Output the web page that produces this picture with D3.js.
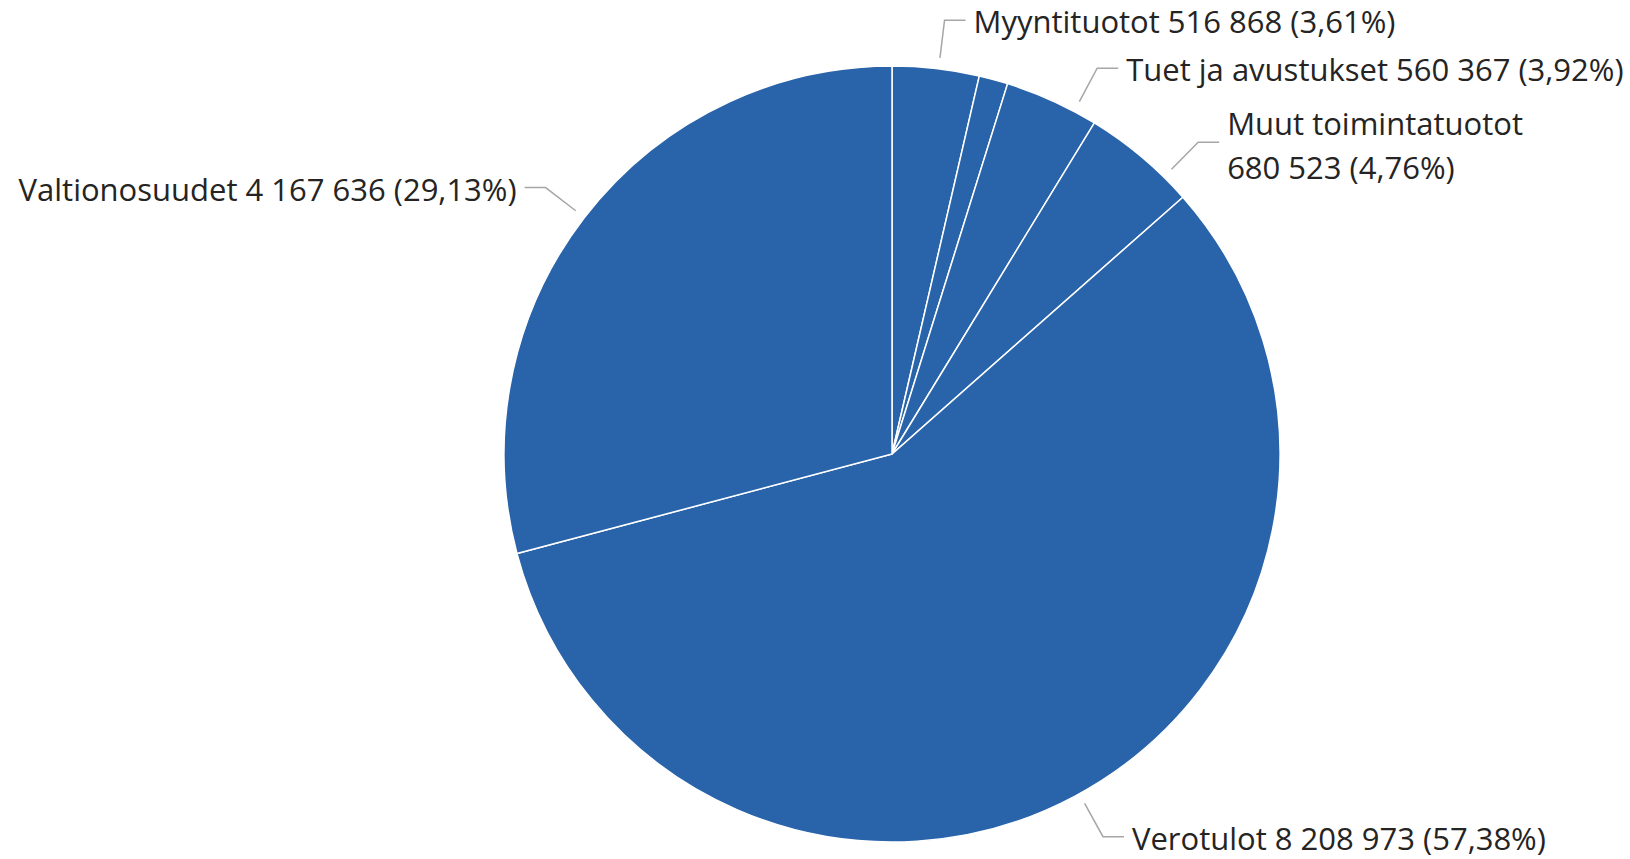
<!DOCTYPE html>
<html>
<head>
  <meta charset="utf-8">
  <title>Toimintatuotot pie</title>
  <script src="https://cdn.jsdelivr.net/npm/d3@7"></script>
  <style>
    body { margin: 0; background: #fff; }
  </style>
</head>
<body>
<script>
  // data (small slice has no visible label)
  var categories = ["Myyntituotot", "Maksutuotot", "Tuet ja avustukset", "Muut toimintatuotot", "Verotulot", "Valtionosuudet"];
  var values = [516868, 172133, 560367, 680523, 8208973, 4167636];
  var showLabel = [true, false, true, true, true, true];

  var width = 1630;
  var height = 859;
  var cx = 892, cy = 454, radius = 388;
  var fontSize = 31;
  var lineH = 48;
  var wrapGap = 43.5;
  var baseShift = 13; // baseline below the leader line

  var fi = d3.formatLocale({decimal: ",", thousands: " ", grouping: [3], currency: ["", ""]});
  var fmtNum = fi.format(",d");
  var fmtPct = fi.format(".2f");

  var data = categories.map(function(c, i) { return {name: c, value: values[i], show: showLabel[i]}; });
  var total = d3.sum(values);

  var svg = d3.select("body")
    .append("svg")
    .attr("width", width)
    .attr("height", height)
    .style("font-family", "'Segoe UI', 'Open Sans', sans-serif");

  var pie = d3.pie().sort(null).value(function(d) { return d.value; });
  var arc = d3.arc().innerRadius(0).outerRadius(radius);
  var arcs = pie(data);

  var g = svg.append("g").attr("transform", "translate(" + cx + "," + cy + ")");

  g.selectAll("path")
    .data(arcs)
    .enter()
    .append("path")
    .attr("d", arc)
    .attr("fill", "#2964ab")
    .attr("stroke", "#ffffff")
    .attr("stroke-width", 1.5);

  // labels
  var r1 = radius + 11, r2 = radius + 49, horiz = 21, gap = 8;
  var labels = arcs.filter(function(a) { return a.data.show; }).map(function(a) {
    var mid = (a.startAngle + a.endAngle) / 2;
    return {
      a: a,
      mid: mid,
      right: mid < Math.PI,
      y: -Math.cos(mid) * r2,
      text: a.data.name + " " + fmtNum(a.data.value) + " (" + fmtPct(a.data.value / total * 100) + "%)"
    };
  });

  // measure and wrap when the label does not fit
  var meas = svg.append("text").style("font-size", fontSize + "px");
  labels.forEach(function(l) {
    meas.text(l.text);
    var w = meas.node().getComputedTextLength();
    var xText = cx + (l.right ? 1 : -1) * (Math.abs(Math.sin(l.mid)) * r2 + horiz + gap);
    var avail = l.right ? width - xText : xText;
    if (w > avail) {
      l.lines = [l.a.data.name, fmtNum(l.a.data.value) + " (" + fmtPct(l.a.data.value / total * 100) + "%)"];
    } else {
      l.lines = [l.text];
    }
    l.h = l.lines.length * lineH + (l.lines.length - 1) * 4;
  });
  meas.remove();

  // keep text boxes inside the picture
  var topY = 1.07 * fontSize - baseShift - cy;
  var botY = height - 0.3 * fontSize - baseShift - cy;

  // push overlapping labels downwards on each side
  [true, false].forEach(function(side) {
    var ls = labels.filter(function(l) { return l.right === side; }).sort(function(p, q) { return p.y - q.y; });
    for (var i = 0; i < ls.length; i++) {
      var half = (ls[i].lines.length - 1) * wrapGap / 2;
      ls[i].y = Math.min(botY - half, Math.max(topY + half, ls[i].y));
      if (i > 0) {
        var minY = ls[i - 1].y + ls[i - 1].h / 2 + ls[i].h / 2;
        if (ls[i].y < minY) ls[i].y = minY;
      }
    }
    ls.forEach(function(l) {
      var c = Math.max(-1, Math.min(1, -l.y / r2));
      var ang = Math.acos(c);
      l.ang = side ? ang : 2 * Math.PI - ang;
    });
  });

  var lg = svg.append("g").attr("transform", "translate(" + cx + "," + cy + ")");

  labels.forEach(function(l) {
    var s = Math.sin(l.ang), c = -Math.cos(l.ang);
    var p1 = [s * r1, c * r1];
    var p2 = [s * r2, c * r2];
    var dir = l.right ? 1 : -1;
    var p3 = [p2[0] + dir * horiz, p2[1]];

    lg.append("path")
      .attr("d", d3.line()([p1, p2, p3]))
      .attr("fill", "none")
      .attr("stroke", "#a6a6a6")
      .attr("stroke-width", 1.5);

    var t = lg.append("text")
      .attr("x", p3[0] + dir * gap)
      .attr("y", p3[1])
      .attr("text-anchor", l.right ? "start" : "end")
      .style("font-size", fontSize + "px")
      .attr("fill", "#252423");

    var n = l.lines.length;
    l.lines.forEach(function(line, i) {
      t.append("tspan")
        .attr("x", p3[0] + dir * gap)
        .attr("y", p3[1] + (i - (n - 1) / 2) * wrapGap + (n > 1 ? 2 : 0) + baseShift)
        .text(line);
    });
  });
</script>
</body>
</html>
